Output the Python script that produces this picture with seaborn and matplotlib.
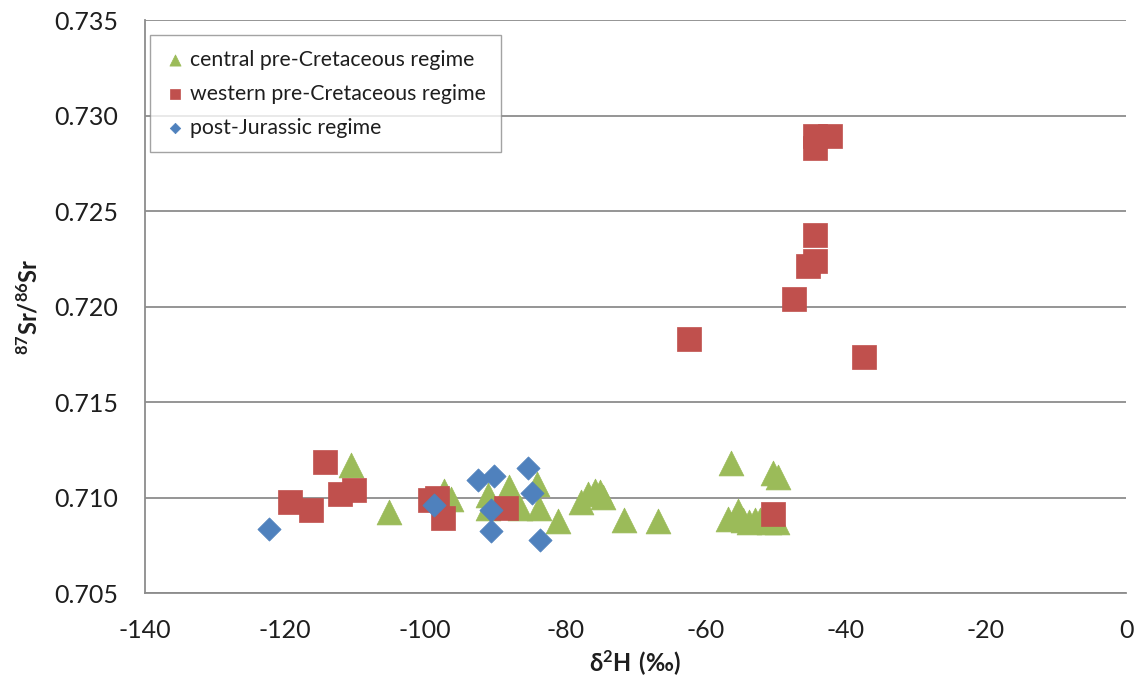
import numpy as np
import pandas as pd
import matplotlib
matplotlib.use("Agg")
import matplotlib.pyplot as plt
import seaborn as sns

# δ2H (‰) and 87Sr/86Sr for the three groundwater regimes
central_h = [-110.6, -105.2, -97.3, -96.3, -91.0, -91.0, -88.0, -86.5, -84.0, -83.8,
             -81.0, -77.8, -76.8, -75.8, -75.0, -74.6, -71.6, -66.7, -56.3, -50.3,
             -49.6, -56.8, -55.4, -54.6, -53.8, -53.0, -52.2, -51.0, -49.8]
central_sr = [0.71173, 0.70925, 0.71033, 0.70990, 0.71013, 0.70946, 0.71054, 0.70946, 0.71072, 0.70946,
              0.70878, 0.70975, 0.71020, 0.71035, 0.71030, 0.71005, 0.70883, 0.70879, 0.71180, 0.71131,
              0.71107, 0.70890, 0.70930, 0.70880, 0.70870, 0.70880, 0.70880, 0.70870, 0.70870]

western_h = [-44.4, -42.3, -44.4, -44.4, -44.4, -45.4, -47.4, -62.3, -37.4, -50.4,
             -114.2, -119.2, -116.2, -112.1, -110.1, -99.3, -98.3, -97.4, -88.4]
western_sr = [0.72895, 0.72895, 0.72830, 0.72375, 0.72241, 0.72215, 0.72039, 0.71831, 0.71737, 0.70913,
              0.71185, 0.70979, 0.70934, 0.71018, 0.71040, 0.70988, 0.71000, 0.70892, 0.70944]

post_h = [-122.2, -92.5, -90.1, -85.3, -84.8, -98.7, -90.6, -90.6, -83.6]
post_sr = [0.70836, 0.71093, 0.71115, 0.71154, 0.71026, 0.70962, 0.70936, 0.70826, 0.70779]

labels = ["central pre-Cretaceous regime", "western pre-Cretaceous regime", "post-Jurassic regime"]
colors = ["#9BBB59", "#C0504D", "#4F81BD"]

x_ticks = [-140, -120, -100, -80, -60, -40, -20, 0]
y_ticks = [0.705, 0.710, 0.715, 0.720, 0.725, 0.730, 0.735]

sns.set_theme(style="white")
plt.rcParams["font.family"] = ["Lato", "DejaVu Sans"]
plt.rcParams["mathtext.fontset"] = "custom"
plt.rcParams["mathtext.rm"] = "Lato"
plt.rcParams["mathtext.bf"] = "Lato:bold"

fig = plt.figure(figsize=(11.34, 6.94), dpi=100)
ax = fig.add_axes([0.1275, 0.1455, 0.8655, 0.8255])

series = [
    (central_h, central_sr, "^", 320),
    (western_h, western_sr, "s", 280),
    (post_h, post_sr, "D", 140),
]
for (h, sr, marker, size), label, color in zip(series, labels, colors):
    df = pd.DataFrame({"h": h, "sr": sr})
    sns.scatterplot(data=df, x="h", y="sr", ax=ax, marker=marker, s=size,
                    color=color, edgecolor=color, linewidth=0.5, label=label,
                    zorder=3)

ax.set_xlim(-140, 0)
ax.set_ylim(0.705, 0.735)
ax.set_xticks(x_ticks)
ax.set_xticklabels([f"{v:d}" for v in x_ticks])
ax.set_yticks(y_ticks)
ax.set_yticklabels([f"{v:.3f}" for v in y_ticks])

grid_c = "#8C8C8C"
ax.yaxis.grid(True, color=grid_c, linewidth=1.3, zorder=0)
ax.xaxis.grid(False)
for side in ["top", "right"]:
    ax.spines[side].set_visible(False)
for side in ["left", "bottom"]:
    ax.spines[side].set_color(grid_c)
    ax.spines[side].set_linewidth(1.3)
ax.tick_params(axis="both", which="major", direction="out", length=8, width=1.3,
               color=grid_c, labelsize=18, labelcolor="#1E1E1E")
ax.tick_params(axis="y", pad=11)
ax.tick_params(axis="x", pad=11)

ax.set_xlabel(r"$\mathbf{\delta^{2}H\ (‰)}$", fontsize=17, color="#1E1E1E", labelpad=4)
ax.set_ylabel(r"$\mathbf{^{87}Sr/^{86}Sr}$", fontsize=17, color="#1E1E1E", labelpad=9)

leg = ax.legend(loc="upper left", bbox_to_anchor=(0.0055, 0.974), borderaxespad=0,
                fontsize=15.3, markerscale=0.45, frameon=True, fancybox=False,
                borderpad=0.7, handletextpad=0.2, labelspacing=0.65, handlelength=1.0)
leg.get_frame().set_edgecolor(grid_c)
leg.get_frame().set_linewidth(1.0)
for t in leg.get_texts():
    t.set_color("#1E1E1E")

fig.savefig("out.png", dpi=100)
